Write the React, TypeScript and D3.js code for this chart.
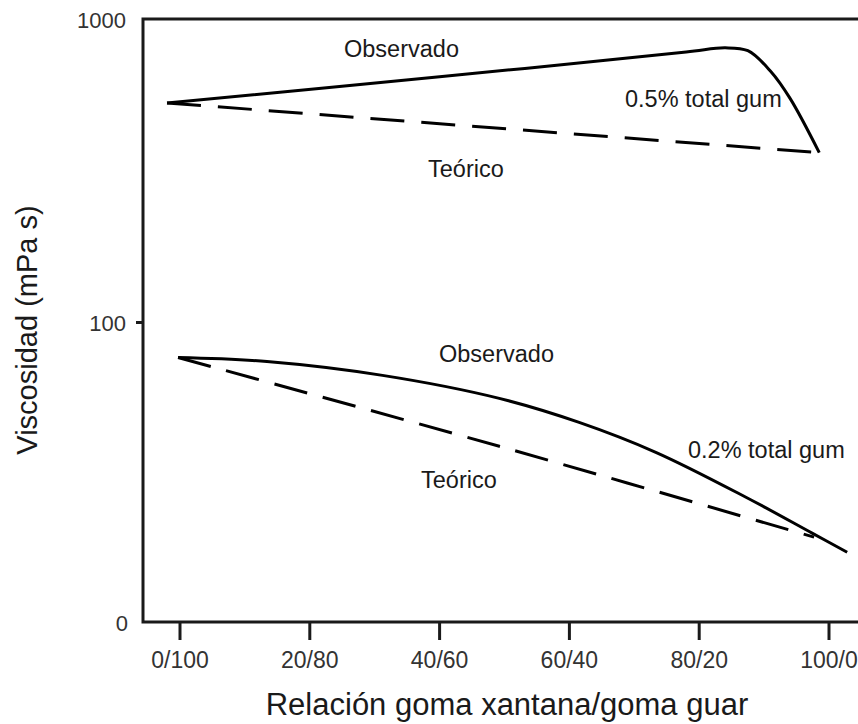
import React from 'react';
import * as d3 from 'd3';

// x categories (xanthan share, %) and their labels
const ratioTicks = [0, 20, 40, 60, 80, 100];
const ratioLabels = ['0/100', '20/80', '40/60', '60/40', '80/20', '100/0'];

// y axis (log scale, mPa s)
const viscTicks = [10, 100, 1000];
const viscLabels = ['0', '100', '1000'];

// 0.5% total gum
const obs05X = [-2, 40, 78, 84, 87.5, 91, 94, 98.5];
const obs05Y = [541, 661, 800, 826, 808, 690, 560, 369];
const theo05X = [-2, 98.5];
const theo05Y = [541, 369];

// 0.2% total gum
const obs02X = [-0.3, 13.4, 31.2, 49.2, 61.5, 73.4, 87.2, 97.4, 102.8];
const obs02Y = [76.4, 74.1, 66.6, 55.8, 46.4, 36.8, 26.1, 19.8, 17.1];
const theo02X = [-0.3, 49.2, 97.7];
const theo02Y = [76.4, 38.6, 19.2];

const W = 858;
const H = 724;
const left = 143;
const top = 19;
const bottom = 622;

const FONT = 'Liberation Sans, Arial, Helvetica, sans-serif';
const INK = '#1a1a1a';

export default function App() {
  const x = d3.scaleLinear().domain([0, 100]).range([180, 829]);
  const y = d3.scaleLog().domain([10, 1000]).range([bottom, 23]);

  const line = d3
    .line<[number, number]>()
    .x((d) => x(d[0]))
    .y((d) => y(d[1]))
    .curve(d3.curveCatmullRom.alpha(0.5));

  const pts = (xs: number[], ys: number[]) => xs.map((v, i) => [v, ys[i]] as [number, number]);

  const series = [
    { d: pts(obs05X, obs05Y), dash: null },
    { d: pts(theo05X, theo05Y), dash: '34 17' },
    { d: pts(obs02X, obs02Y), dash: null },
    { d: pts(theo02X, theo02Y), dash: '34 16' },
  ];

  return (
    <svg
      width={W}
      height={H}
      style={{ position: 'absolute', left: 0, top: 0, background: '#fff' }}
      fontFamily={FONT}
    >
      {/* frame */}
      <path
        d={`M${W + 5},${top} L${left},${top} L${left},${bottom} L${W + 5},${bottom}`}
        fill="none"
        stroke={INK}
        strokeWidth={3}
      />

      {/* y ticks */}
      <line x1={136} x2={left} y1={y(100)} y2={y(100)} stroke={INK} strokeWidth={3} />
      {viscTicks.map((t, i) => (
        <text
          key={t}
          x={i === 0 ? 128 : 126}
          y={i === 2 ? 22 : y(t) + 3}
          textAnchor="end"
          dominantBaseline="middle"
          fontSize={22}
          fill="#333"
        >
          {viscLabels[i]}
        </text>
      ))}

      {/* x ticks */}
      {ratioTicks.map((t, i) => (
        <g key={t}>
          <line x1={x(t)} x2={x(t)} y1={bottom} y2={640} stroke={INK} strokeWidth={3} />
          <text x={x(t)} y={668} textAnchor="middle" fontSize={23} fill="#333">
            {ratioLabels[i]}
          </text>
        </g>
      ))}

      {/* curves */}
      {series.map((s, i) => (
        <path
          key={i}
          d={line(s.d) || ''}
          fill="none"
          stroke="#000"
          strokeWidth={3}
          strokeDasharray={s.dash || undefined}
          strokeLinecap="butt"
          strokeLinejoin="round"
        />
      ))}

      {/* annotations */}
      <g fontSize={23.5} fill={INK}>
        <text x={344} y={57}>Observado</text>
        <text x={625} y={107}>0.5% total gum</text>
        <text x={428} y={177}>Teórico</text>
        <text x={439} y={362}>Observado</text>
        <text x={688} y={458}>0.2% total gum</text>
        <text x={421} y={488}>Teórico</text>
      </g>

      {/* axis titles */}
      <text x={507} y={715} textAnchor="middle" fontSize={31} fill={INK}>
        Relación goma xantana/goma guar
      </text>
      <text
        transform={`translate(37,330) rotate(-90)`}
        textAnchor="middle"
        fontSize={29}
        fill={INK}
      >
        Viscosidad (mPa s)
      </text>
    </svg>
  );
}
